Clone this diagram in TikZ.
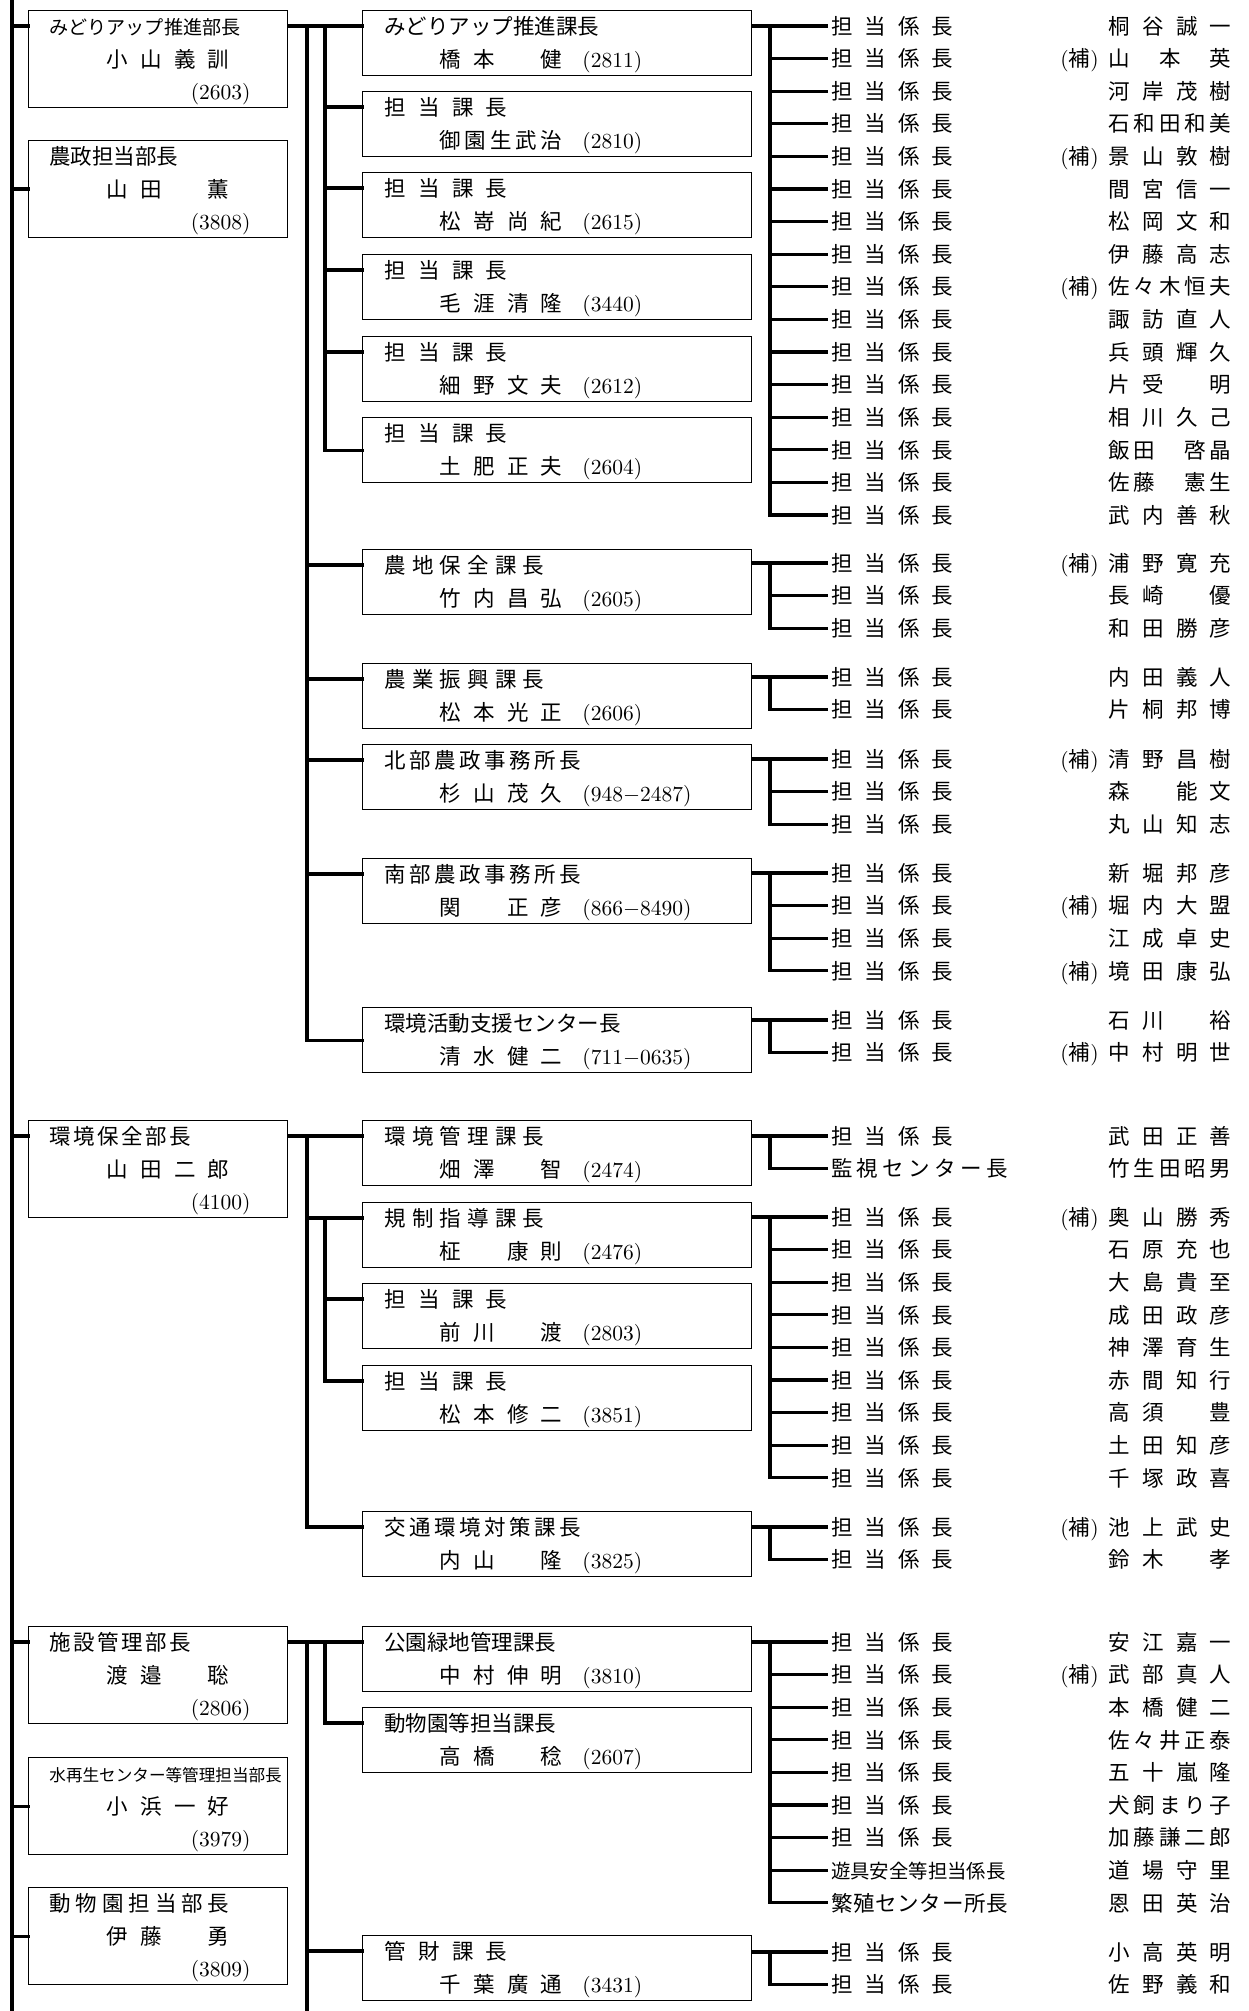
\documentclass[tikz,border=0pt]{standalone}
\usepackage{fontspec}
\newfontfamily\cjk{Noto Sans CJK JP}
\newcommand\spr[2]{\makebox[#1][s]{\spaceskip=0pt plus 1fil\relax #2}}
\newcommand\ho{{\rmfamily(}補{\rmfamily)}}
\newcommand\kk{\spr{61pt}{担 当 係 長}}
\begin{document}
\begin{tikzpicture}[x=0.5pt, y=-0.5pt,
    font=\cjk\fontsize{10.75}{13}\selectfont,
    conn/.style={line width=1.6pt, line cap=rect},
    bubox/.style={draw, line width=0.6pt, anchor=north west, inner sep=0pt,
        minimum width=129.5pt, minimum height=48.5pt},
    kabox/.style={draw, line width=0.6pt, anchor=north west, inner sep=0pt,
        minimum width=194.5pt, minimum height=32.5pt},
    txt/.style={inner sep=0pt, anchor=west, text height=9.5pt, text depth=1.3pt}]

    \useasboundingbox (0,0) rectangle (1248,2011);

    \coordinate (spine) at (12,0);
    \coordinate (spineend) at (12,2011);
    \coordinate (lb1) at (307,0);
    \coordinate (lb2) at (325,0);
    \coordinate (rb) at (770,0);

    % department heads
    \foreach \bu/\yt/\ttl/\who/\naisen in {
        b1/10/{\fontsize{9.55}{11}\selectfont みどりアップ推進部長}/小 山 義 訓/2603,
        b2/140/農政担当部長/山 田 　 薫/3808,
        b3/1120/\spr{71pt}{環 境 保 全 部 長}/山 田 二 郎/4100,
        b4/1626/\spr{71pt}{施 設 管 理 部 長}/渡 邉 　 聡/2806,
        b5/1757/{\fontsize{8.3}{10}\selectfont 水再生センター等管理担当部長}/小 浜 一 好/3979,
        b6/1887/\spr{90pt}{動 物 園 担 当 部 長}/伊 藤 　 勇/3809} {
        \node[bubox] (\bu) at (28,\yt) {};
        \node[txt] (\bu-t) at (49,{\yt+16}) {\ttl};
        \node[txt] (\bu-n) at (106,{\yt+49}) {\spr{61.5pt}{\who}};
        \node[txt, anchor=east] (\bu-p) at (251,{\yt+81}) {\rmfamily(\naisen)};
    }

    % section heads
    \foreach \m/\yt/\ttl/\who/\naisen in {
        m1/10/みどりアップ推進課長/橋 本 　 健/2811,
        m2/91/\spr{61.5pt}{担 当 課 長}/御 園 生 武 治/2810,
        m3/172/\spr{61.5pt}{担 当 課 長}/松 嵜 尚 紀/2615,
        m4/254/\spr{61.5pt}{担 当 課 長}/毛 涯 清 隆/3440,
        m5/336/\spr{61.5pt}{担 当 課 長}/細 野 文 夫/2612,
        m6/417/\spr{61.5pt}{担 当 課 長}/土 肥 正 夫/2604,
        m7/549/\spr{80pt}{農 地 保 全 課 長}/竹 内 昌 弘/2605,
        m8/663/\spr{80pt}{農 業 振 興 課 長}/松 本 光 正/2606,
        m9/744/\spr{98.5pt}{北 部 農 政 事 務 所 長}/杉 山 茂 久/948$-$2487,
        m10/858/\spr{98.5pt}{南 部 農 政 事 務 所 長}/関 　 正 彦/866$-$8490,
        m11/1007/環境活動支援センター長/清 水 健 二/711$-$0635,
        m12/1120/\spr{80pt}{環 境 管 理 課 長}/畑 澤 　 智/2474,
        m13/1202/\spr{80pt}{規 制 指 導 課 長}/柾 　 康 則/2476,
        m14/1283/\spr{61.5pt}{担 当 課 長}/前 川 　 渡/2803,
        m15/1365/\spr{61.5pt}{担 当 課 長}/松 本 修 二/3851,
        m16/1511/\spr{98.5pt}{交 通 環 境 対 策 課 長}/内 山 　 隆/3825,
        m17/1626/公園緑地管理課長/中 村 伸 明/3810,
        m18/1707/動物園等担当課長/高 橋 　 稔/2607,
        m19/1935/\spr{61.5pt}{管 財 課 長}/千 葉 廣 通/3431} {
        \node[kabox] (\m) at (362,\yt) {};
        \node[txt] (\m-t) at (384,{\yt+16}) {\ttl};
        \node[txt] (\m-n) at (439,{\yt+49}) {\spr{61.5pt}{\who}};
        \node[txt] (\m-p) at (582,{\yt+49}) {\rmfamily(\naisen)};
    }

    % chiefs
    \foreach \g/\bx/\yy/\cnt/\list in {
        A/m1/26/16/{\kk//桐 谷 誠 一, \kk/\ho/山 本 英, \kk//河 岸 茂 樹, \kk//石 和 田 和 美,
            \kk/\ho/景 山 敦 樹, \kk//間 宮 信 一, \kk//松 岡 文 和, \kk//伊 藤 高 志,
            \kk/\ho/佐 々 木 恒 夫, \kk//諏 訪 直 人, \kk//兵 頭 輝 久, \kk//片 受 　 明,
            \kk//相 川 久 己, \kk//飯 田 　 啓 晶, \kk//佐 藤 　 憲 生, \kk//武 内 善 秋},
        B/m7/563/3/{\kk/\ho/浦 野 寛 充, \kk//長 崎 　 優, \kk//和 田 勝 彦},
        C/m8/677/2/{\kk//内 田 義 人, \kk//片 桐 邦 博},
        D/m9/759/3/{\kk/\ho/清 野 昌 樹, \kk//森 　 能 文, \kk//丸 山 知 志},
        E/m10/873/4/{\kk//新 堀 邦 彦, \kk/\ho/堀 内 大 盟, \kk//江 成 卓 史, \kk/\ho/境 田 康 弘},
        F/m11/1020/2/{\kk//石 川 　 裕, \kk/\ho/中 村 明 世},
        G/m12/1136/2/{\kk//武 田 正 善, \spr{88.5pt}{監 視 セ ン タ ー 長}//竹 生 田 昭 男},
        H/m13/1217/9/{\kk/\ho/奥 山 勝 秀, \kk//石 原 充 也, \kk//大 島 貴 至, \kk//成 田 政 彦,
            \kk//神 澤 育 生, \kk//赤 間 知 行, \kk//高 須 　 豊, \kk//土 田 知 彦, \kk//千 塚 政 喜},
        I/m16/1527/2/{\kk/\ho/池 上 武 史, \kk//鈴 木 　 孝},
        J/m17/1642/9/{\kk//安 江 嘉 一, \kk/\ho/武 部 真 人, \kk//本 橋 健 二, \kk//佐 々 井 正 泰,
            \kk//五 十 嵐 隆, \kk//犬 飼 ま り 子, \kk//加 藤 謙 二 郎,
            {\fontsize{9.7}{11}\selectfont 遊具安全等担当係長}//道 場 守 里,
            \spr{88.5pt}{繁 殖 セ ン タ ー 所 長}//恩 田 英 治},
        K/m19/1952/2/{\kk//小 高 英 明, \kk//佐 野 義 和}} {
        \foreach \kt/\hk/\nme [count=\idx] in \list {
            \node[txt, outer xsep=2.5pt] (\g-\idx) at (826,{\yy+32.6*(\idx-1)}) {\kt};
            \node[txt, anchor=east] (\g-\idx-h) at (1099,{\yy+32.6*(\idx-1)}) {\hk};
            \node[txt] (\g-\idx-n) at (1108,{\yy+32.6*(\idx-1)}) {\spr{61.5pt}{\nme}};
            \draw[conn] (rb |- \g-\idx) -- (\g-\idx.west);
        }
        \draw[conn] (\bx.east |- \g-1) -- (\g-1.west);
        \draw[conn] (rb |- \g-1) -- (rb |- \g-\cnt);
    }

    % spine
    \draw[conn] (spine) -- (spineend);
    \foreach \bu in {b1,b3,b4} \draw[conn] (spine |- \bu-t) -- (\bu.west |- \bu-t);
    \foreach \bu in {b2,b5,b6} \draw[conn] (spine |- \bu.west) -- (\bu.west);

    % agriculture
    \draw[conn] (b1.east |- m1-t) -- (m1.west |- m1-t);
    \draw[conn] (lb1 |- m1-t) -- (lb1 |- m11.west);
    \draw[conn] (lb2 |- m1-t) -- (lb2 |- m6.west);
    \foreach \m in {m2,m3,m4,m5} \draw[conn] (lb2 |- \m-t) -- (\m.west |- \m-t);
    \draw[conn] (lb2 |- m6.west) -- (m6.west);
    \foreach \m in {m7,m8,m9,m10} \draw[conn] (lb1 |- \m-t) -- (\m.west |- \m-t);
    \draw[conn] (lb1 |- m11.west) -- (m11.west);

    % environment
    \draw[conn] (b3.east |- m12-t) -- (m12.west |- m12-t);
    \draw[conn] (lb1 |- m12-t) -- (lb1 |- m16-t);
    \draw[conn] (lb2 |- m13-t) -- (lb2 |- m15-t);
    \foreach \m in {m13,m16} \draw[conn] (lb1 |- \m-t) -- (\m.west |- \m-t);
    \foreach \m in {m14,m15} \draw[conn] (lb2 |- \m-t) -- (\m.west |- \m-t);

    % facilities
    \draw[conn] (b4.east |- m17-t) -- (m17.west |- m17-t);
    \draw[conn] (lb1 |- m17-t) -- (lb1 |- spineend);
    \draw[conn] (lb2 |- m17-t) -- (lb2 |- m18-t) -- (m18.west |- m18-t);
    \draw[conn] (lb1 |- m19-t) -- (m19.west |- m19-t);
\end{tikzpicture}
\end{document}
